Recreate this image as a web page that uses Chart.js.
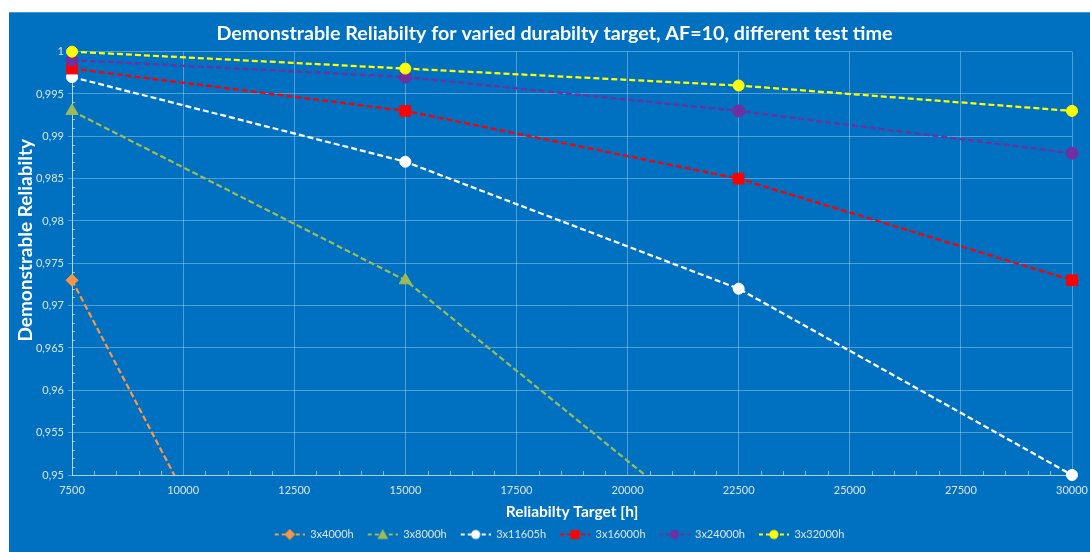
<!DOCTYPE html>
<html>
<head>
	<title>Demonstrable Reliabilty</title>
	<style>
		body { margin: 0; background: #ffffff; }
		#frame { position: absolute; left: 9px; top: 12px; width: 1081px; height: 540px; background: #0070c0; box-shadow: inset 0 1px 0 #4a97d6; }
		canvas { display: block; }
	</style>
</head>
<body>
	<div id="frame">
		<canvas id="relChart" width="1081" height="540"></canvas>
	</div>

	<script src="https://cdn.jsdelivr.net/npm/chart.js@4/dist/chart.umd.min.js"></script>
	<script type="text/javascript">

		// test target hours on the x axis
		var targetHours = [7500, 15000, 22500, 30000];

		// demonstrable reliability per test plan
		var seriesNames = ['3x4000h', '3x8000h', '3x11605h', '3x16000h', '3x24000h', '3x32000h'];
		var rel4000  = [0.973, 0.898, null, null];
		var rel8000  = [0.993, 0.973, 0.941, null];
		var rel11605 = [0.997, 0.987, 0.972, 0.950];
		var rel16000 = [0.998, 0.993, 0.985, 0.973];
		var rel24000 = [0.999, 0.997, 0.993, 0.988];
		var rel32000 = [1.000, 0.998, 0.996, 0.993];

		// axis ticks
		var xTicks = [7500, 10000, 12500, 15000, 17500, 20000, 22500, 25000, 27500, 30000];
		var yTicks = [0.95, 0.955, 0.96, 0.965, 0.97, 0.975, 0.98, 0.985, 0.99, 0.995, 1];

		var fontName = 'Lato';
		var labelColor = '#dce6f2';
		var gridColor = 'rgba(255,255,255,0.32)';
		var axisColor = 'rgba(255,255,255,0.55)';

		var looks = [
			{ color: '#f79646', style: 'rectRot',  radius: 6,   clipLow: 0 },
			{ color: '#9bbb59', style: 'triangle', radius: 7,   clipLow: 0 },
			{ color: '#ffffff', style: 'circle',   radius: 5.5, clipLow: 8 },
			{ color: '#ff0000', style: 'rect',     radius: 7.5, clipLow: 8 },
			{ color: '#7030a0', style: 'circle',   radius: 6,   clipLow: 8 },
			{ color: '#ffff00', style: 'circle',   radius: 5.5, clipLow: 8 }
		];

		function fmtComma(v) {
			return String(Number(v.toFixed(3))).replace('.', ',');
		}

		// small marker for the legend sample
		function drawMarker(ctx, style, x, y, r) {
			ctx.beginPath();
			if (style === 'circle') {
				ctx.arc(x, y, r, 0, Math.PI * 2);
			} else if (style === 'rect') {
				ctx.rect(x - r, y - r, r * 2, r * 2);
			} else if (style === 'rectRot') {
				ctx.moveTo(x, y - r - 1); ctx.lineTo(x + r + 1, y); ctx.lineTo(x, y + r + 1); ctx.lineTo(x - r - 1, y);
				ctx.closePath();
			} else if (style === 'triangle') {
				ctx.moveTo(x, y - r - 1); ctx.lineTo(x + r + 1, y + r); ctx.lineTo(x - r - 1, y + r);
				ctx.closePath();
			}
			ctx.fill();
		}

		function legendSample(look) {
			var c = document.createElement('canvas');
			c.width = 40; c.height = 12;
			var g = c.getContext('2d');
			g.strokeStyle = look.color;
			g.fillStyle = look.color;
			g.lineWidth = 2;
			g.setLineDash([4, 3]);
			g.beginPath();
			g.moveTo(10, 6); g.lineTo(40, 6);
			g.stroke();
			g.setLineDash([]);
			drawMarker(g, look.style, 25, 6, 4.5);
			return c;
		}

		function buildDatasets() {
			var all = [rel4000, rel8000, rel11605, rel16000, rel24000, rel32000];
			var sets = [];
			for (var i = 0; i < all.length; i++) {
				var pts = [];
				for (var j = 0; j < targetHours.length; j++) {
					if (all[i][j] !== null) pts.push({ x: targetHours[j], y: all[i][j] });
				}
				var lk = looks[i];
				sets.push({
					label: seriesNames[i],
					data: pts,
					borderColor: lk.color,
					backgroundColor: lk.color,
					borderWidth: 2.25,
					borderDash: [6, 3],
					pointStyle: lk.style,
					pointRadius: lk.radius,
					pointBorderWidth: 1,
					pointBorderColor: lk.color,
					pointBackgroundColor: lk.color,
					tension: 0,
					order: all.length - 1 - i,
					clip: { left: 10, top: 10, right: 10, bottom: lk.clipLow }
				});
			}
			return sets;
		}

		var minorTicks = {
			id: 'minorTicks',
			beforeDatasetsDraw: function (chart) {
				var ctx = chart.ctx, xs = chart.scales.x, ys = chart.scales.y, area = chart.chartArea;
				ctx.save();
				ctx.strokeStyle = axisColor;
				ctx.lineWidth = 1;
				ctx.beginPath();
				for (var i = 1; i < 45; i++) {
					if (i % 5 === 0) continue;
					var px = Math.round(xs.getPixelForValue(xTicks[0] + i * 500)) + 0.5;
					ctx.moveTo(px, area.bottom); ctx.lineTo(px, area.bottom - 4);
				}
				for (var k = 1; k < 50; k++) {
					if (k % 5 === 0) continue;
					var py = Math.round(ys.getPixelForValue(yTicks[0] + k * 0.001)) + 0.5;
					ctx.moveTo(area.left, py); ctx.lineTo(area.left + 3, py);
				}
				ctx.stroke();
				ctx.restore();
			}
		};

		function makeChart() {
			new Chart('relChart', {
				type: 'line',
				data: { datasets: buildDatasets() },
				plugins: [minorTicks],
				options: {
					responsive: false,
					animation: false,
					events: [],
					layout: { padding: { left: 14, right: 4, top: 0, bottom: 2 } },
					scales: {
						x: {
							type: 'linear',
							min: 7500,
							max: 30000,
							afterBuildTicks: function (s) { s.ticks = xTicks.map(function (v) { return { value: v }; }); },
							afterFit: function (s) { s.height = 50; s.paddingRight = 18; },
							grid: { color: gridColor, drawTicks: false },
							border: { color: axisColor },
							ticks: { color: labelColor, font: { family: fontName, size: 11 }, padding: 9, maxRotation: 0, callback: function (v) { return String(v); } },
							title: { display: true, text: 'Reliabilty Target [h]', color: '#ffffff', font: { family: fontName, size: 15.5, weight: 'bold' }, padding: { top: 0, bottom: 4 } }
						},
						y: {
							min: 0.95,
							max: 1,
							afterBuildTicks: function (s) { s.ticks = yTicks.map(function (v) { return { value: v }; }); },
							afterFit: function (s) { s.width = 49; },
							grid: { color: gridColor, tickLength: 4 },
							border: { color: axisColor },
							ticks: { color: labelColor, font: { family: fontName, size: 11 }, padding: 4, callback: function (v) { return fmtComma(v); } },
							title: { display: true, text: '          Demonstrable Reliabilty', color: '#ffffff', font: { family: fontName, size: 19, weight: 'bold' }, padding: { top: -9, bottom: 0 } }
						}
					},
					plugins: {
						tooltip: { enabled: false },
						title: {
							display: true,
							text: 'Demonstrable Reliabilty for varied durabilty target, AF=10, different test time',
							color: '#ffffff',
							font: { family: fontName, size: 19.7, weight: 'bold' },
							padding: { top: 10, bottom: 6 }
						},
						legend: {
							position: 'bottom',
							labels: {
								usePointStyle: true,
								pointStyleWidth: 40,
								padding: 4,
								color: labelColor,
								font: { family: fontName, size: 11 },
								generateLabels: function (chart) {
									return chart.data.datasets.map(function (ds, i) {
										return { text: ds.label, pointStyle: legendSample(looks[i]), fillStyle: looks[i].color, strokeStyle: looks[i].color, lineWidth: 0, hidden: false, datasetIndex: i, fontColor: labelColor };
									});
								}
							}
						}
					}
				}
			});
		}

		window.onload = makeChart;
	</script>
</body>
</html>
